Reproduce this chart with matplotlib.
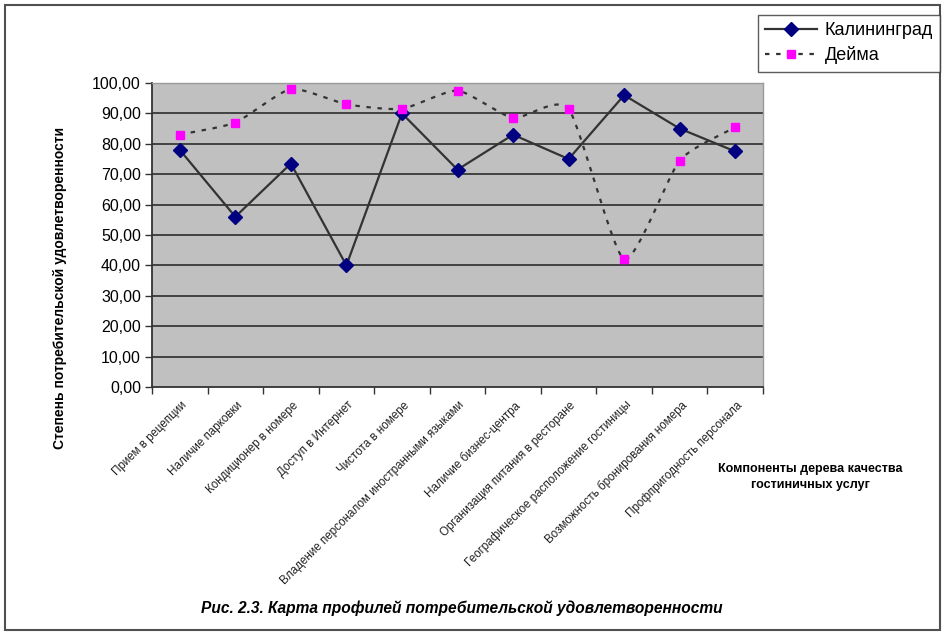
import matplotlib
matplotlib.use("Agg")
import matplotlib.pyplot as plt
import numpy as np
from matplotlib.lines import Line2D
from matplotlib.patches import Rectangle

plt.rcParams['font.family'] = ['Liberation Sans', 'DejaVu Sans']

categories = [
    "Прием в рецепции",
    "Наличие парковки",
    "Кондиционер в номере",
    "Доступ в Интернет",
    "Чистота в номере",
    "Владение персоналом иностранными языками",
    "Наличие бизнес-центра",
    "Организация питания в ресторане",
    "Географическое расположение гостиницы",
    "Возможность бронирования номера",
    "Профпригодность персонала",
]
kaliningrad = [78, 56, 73.5, 40, 90, 71.5, 83, 75, 96, 85, 77.5]
deima = [83, 87, 98, 93, 91.5, 97.5, 88.5, 91.5, 42, 74.5, 85.5]
yticks = [0, 10, 20, 30, 40, 50, 60, 70, 80, 90, 100]


def cardinal(x, y, tension=0.6, n=30):
    x = np.asarray(x, float)
    y = np.asarray(y, float)
    m = len(x)
    mx = np.zeros(m)
    my = np.zeros(m)
    for i in range(m):
        a = max(i - 1, 0)
        b = min(i + 1, m - 1)
        mx[i] = tension * 0.5 * (x[b] - x[a]) * (2 if a == i or b == i else 1)
        my[i] = tension * 0.5 * (y[b] - y[a]) * (2 if a == i or b == i else 1)
    xs, ys = [], []
    t = np.linspace(0, 1, n, endpoint=False)
    h00 = 2 * t ** 3 - 3 * t ** 2 + 1
    h10 = t ** 3 - 2 * t ** 2 + t
    h01 = -2 * t ** 3 + 3 * t ** 2
    h11 = t ** 3 - t ** 2
    for i in range(m - 1):
        xs.append(h00 * x[i] + h10 * mx[i] + h01 * x[i + 1] + h11 * mx[i + 1])
        ys.append(h00 * y[i] + h10 * my[i] + h01 * y[i + 1] + h11 * my[i + 1])
    xs.append([x[-1]])
    ys.append([y[-1]])
    return np.concatenate(xs), np.concatenate(ys)


fig = plt.figure(figsize=(9.46, 6.35), dpi=100)
fig.patch.set_facecolor('white')
fig.patches.append(Rectangle((5 / 946, 1 - 630 / 635), 935 / 946, 625 / 635,
                             transform=fig.transFigure, fill=False,
                             edgecolor='#505050', linewidth=1.5))

ax = fig.add_axes([152 / 946, 1 - 387 / 635, 611 / 946, 304 / 635])
ax.set_facecolor('#C0C0C0')
x = np.arange(len(categories))
ax.set_xlim(-0.5, len(categories) - 0.5)
ax.set_ylim(0, 100)

for v in yticks[1:-1]:
    ax.axhline(v, color='#383838', linewidth=1.3, zorder=1)

sx, sy = cardinal(x, deima, tension=0.6)
ax.plot(sx, sy, color='#333333', linewidth=1.6, linestyle=(0, (2, 3)), zorder=2)
ax.plot(x, deima, linestyle='none', marker='s', markersize=5.5,
        markerfacecolor='#FF00FF', markeredgecolor='#FF00FF', zorder=4)
ax.plot(x, kaliningrad, color='#333333', linewidth=1.6, marker='D', markersize=7,
        markerfacecolor='#000080', markeredgecolor='#000080', zorder=3)

ax.set_yticks(yticks)
ax.set_yticklabels([f"{v:.2f}".replace('.', ',') for v in yticks], fontsize=11.5)
ax.set_xticks(np.arange(len(categories) + 1) - 0.5, minor=False)
ax.set_xticklabels([])
ax.tick_params(axis='y', direction='out', length=5, width=1, color='#333333', pad=3)
ax.tick_params(axis='x', direction='out', length=5, width=1, color='#333333')

for i, lab in enumerate(categories):
    ax.text(i + 0.02, -4, lab, rotation=45, ha='right', va='top',
            rotation_mode='anchor', fontsize=8.4, color='#222222')

for s in ['top', 'right']:
    ax.spines[s].set_color('#9a9a9a')
    ax.spines[s].set_linewidth(1)
for s in ['left', 'bottom']:
    ax.spines[s].set_color('#333333')
    ax.spines[s].set_linewidth(1.3)

fig.text(60 / 946, 1 - 288 / 635, "Степень потребительской удовлетворенности",
         rotation=90, ha='center', va='center', fontsize=10, fontweight='bold')
fig.text(810 / 946, 1 - 477 / 635, "Компоненты дерева качества\nгостиничных услуг",
         ha='center', va='center', fontsize=9, fontweight='bold', linespacing=1.5)
fig.text(462 / 946, 1 - 608 / 635,
         "Рис. 2.3. Карта профилей потребительской удовлетворенности",
         ha='center', va='center', fontsize=11.2, fontweight='bold', style='italic')

handles = [
    Line2D([], [], color='#333333', linewidth=1.6, marker='D', markersize=7,
           markerfacecolor='#000080', markeredgecolor='#000080'),
    Line2D([], [], color='#333333', linewidth=1.6, linestyle=(0, (2, 3)), marker='s',
           markersize=5.5, markerfacecolor='#FF00FF', markeredgecolor='#FF00FF'),
]
leg = fig.legend(handles, ["Калининград", "Дейма"], loc='upper right',
                 bbox_to_anchor=(940 / 946, 1 - 15 / 635), fontsize=13,
                 frameon=True, fancybox=False, edgecolor='#333333',
                 handlelength=2.9, borderpad=0.4, labelspacing=0.4,
                 handletextpad=0.4, borderaxespad=0)
leg.get_frame().set_linewidth(1)

fig.savefig("out.png", dpi=100, facecolor='white')
